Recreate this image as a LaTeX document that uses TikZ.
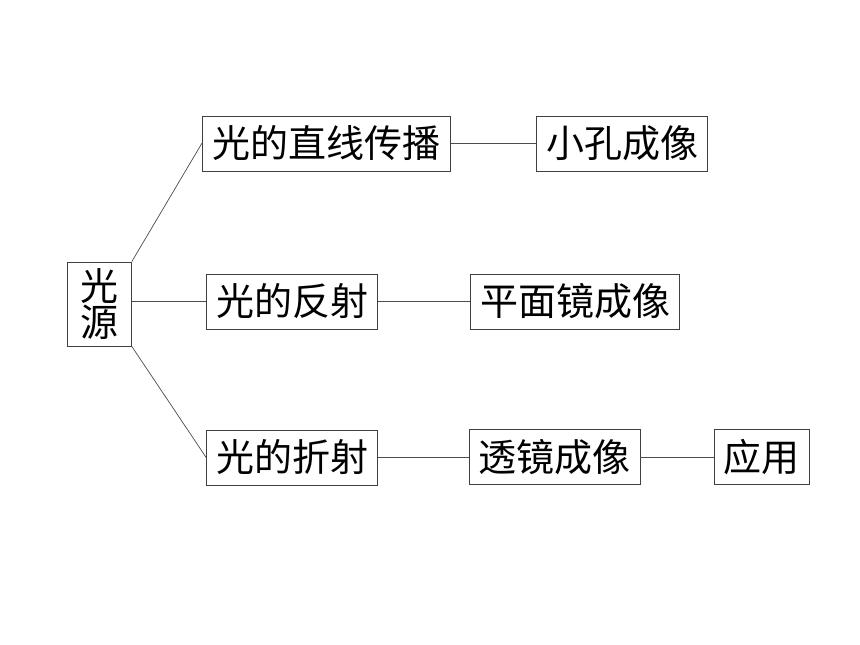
\documentclass[tikz,border=0pt]{standalone}
\usepackage{fontspec}
\newfontfamily\cjk{Noto Sans CJK SC}
\tikzset{
  box/.style={draw=black!75, line width=0.8pt, inner sep=0pt, font={\cjk\fontsize{38}{36}\selectfont}, minimum height=55pt},
  link/.style={draw=black!70, line width=0.7pt}
}
\begin{document}
\begin{tikzpicture}[x=1pt,y=-1pt]
            \useasboundingbox (0,0) rectangle (860,645);

            \node[box, minimum width=64pt, minimum height=84pt, align=center] (src) at (99.4,304) {光\\源};

            \node[box, minimum width=248pt] (straight) at (326.2,143.4) {光的直线传播};
            \node[box, minimum width=171pt] (reflect) at (292,301.4) {光的反射};
            \node[box, minimum width=171pt] (refract) at (292,457.4) {光的折射};

            \node[box, minimum width=171pt] (pinhole) at (622,143.4) {小孔成像};
            \node[box, minimum width=209pt] (mirror) at (575.2,301.4) {平面镜成像};
            \node[box, minimum width=171pt] (lens) at (554.4,456.6) {透镜成像};
            \node[box, minimum width=95pt] (usage) at (761.7,457) {应用};

            \draw[link] (src.north east) to (straight.west);
            \draw[link] (src.east |- reflect.west) to (reflect.west);
            \draw[link] (src.south east) to (refract.west);

            \draw[link] (straight) to (pinhole);
            \draw[link] (reflect) to (mirror);
            \draw[link] (refract.east) to (refract.east -| lens.west);
            \draw[link] (lens.east |- usage.west) to (usage.west);
        \end{tikzpicture}
\end{document}
